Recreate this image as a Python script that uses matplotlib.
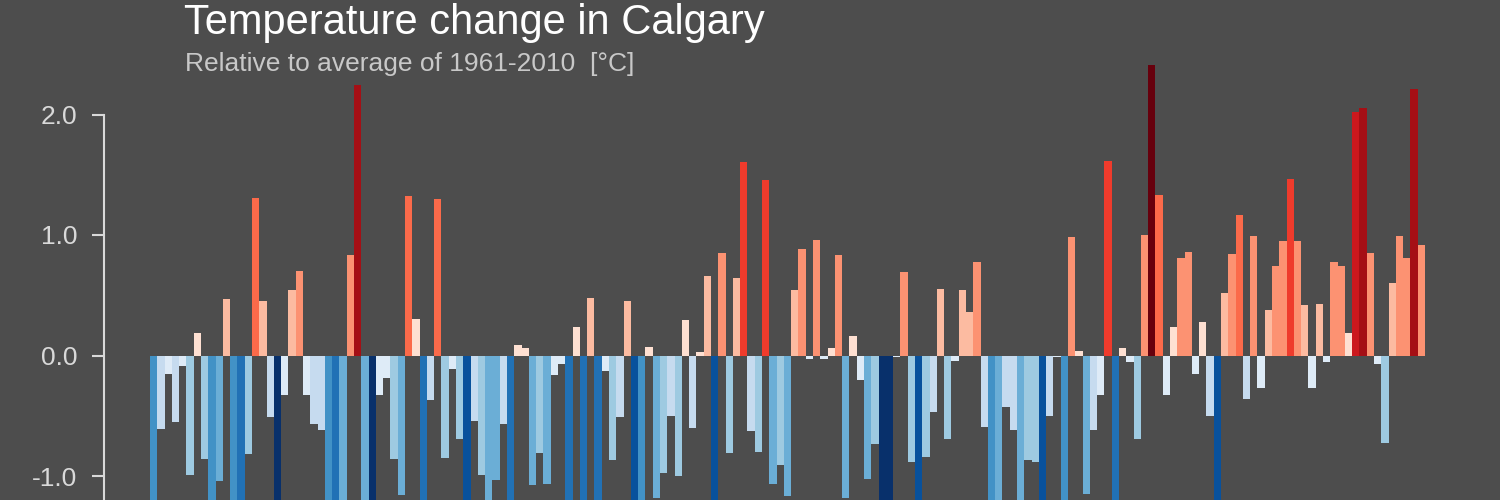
import numpy as np
import matplotlib
matplotlib.use("Agg")
import matplotlib.pyplot as plt
from matplotlib.colors import ListedColormap, Normalize

# ---- data -------------------------------------------------------------
years = list(range(1845, 2020))
anomaly = [
    -1.50, -0.61, -0.15, -0.55, -0.09, -0.99, 0.19, -0.86, -1.50, -1.04,
    0.47, -1.50, -1.85, -0.82, 1.31, 0.455, -0.51, -2.50, -0.33, 0.54,
    0.70, -0.33, -0.57, -0.62, -1.50, -1.85, -1.27, 0.83, 2.245, -1.27,
    -2.50, -0.33, -0.19, -0.86, -1.16, 1.32, 0.305, -1.85, -0.37, 1.30,
    -0.85, -0.115, -0.69, -2.20, -0.54, -0.99, -1.25, -1.03, -0.57, -1.85,
    0.09, 0.065, -1.075, -0.81, -1.065, -0.16, -0.07, -1.85, 0.235, -1.85,
    0.475, -1.85, -0.13, -0.87, -0.51, 0.455, -2.20, -1.50, 0.07, -1.18,
    -0.975, -0.50, -1.00, 0.295, -0.60, 0.025, 0.66, -2.20, 0.85, -0.81,
    0.64, 1.605, -0.63, -0.80, 1.455, -1.065, -0.91, -1.17, 0.54, 0.88,
    -0.026, 0.96, -0.026, 0.062, 0.83, -1.185, 0.16, -0.205, -1.025, -0.735,
    -2.50, -2.70, -0.01, 0.695, -0.885, -2.20, -0.845, -0.47, 0.555, -0.69,
    -0.045, 0.54, 0.36, 0.78, -0.59, -1.50, -1.25, -0.43, -0.62, -1.25,
    -0.87, -0.88, -2.20, -0.50, -0.01, -1.50, 0.98, 0.04, -1.15, -0.62,
    -0.33, 1.61, -1.85, 0.065, -0.057, -0.69, 1.00, 2.41, 1.335, -0.33,
    0.237, 0.81, 0.86, -0.156, 0.275, -0.50, -2.20, 0.515, 0.84, 1.17,
    -0.36, 0.99, -0.27, 0.38, 0.74, 0.95, 1.465, 0.95, 0.415, -0.27,
    0.43, -0.05, 0.78, 0.74, 0.185, 2.02, 2.055, 0.85, -0.073, -0.73,
    0.60, 0.99, 0.81, 2.21, 0.92,
]
ytick_values = [-1.0, 0.0, 1.0, 2.0]
ytick_labels = ["-1.0", "0.0", "1.0", "2.0"]
title = "Temperature change in Calgary"
subtitle = "Relative to average of 1961-2010  [°C]"

# ---- style ------------------------------------------------------------
bg = "#4d4d4d"
stripe_colors = ['#08306b', '#08519c', '#2171b5', '#4292c6',
                 '#6baed6', '#9ecae1', '#c6dbef', '#deebf7',
                 '#fee0d2', '#fcbba1', '#fc9272', '#fb6a4a',
                 '#ef3b2c', '#cb181d', '#a50f15', '#67000d']
cmap = ListedColormap(stripe_colors)
norm = Normalize(vmin=-2.7, vmax=2.7)

plt.rcParams['font.family'] = ['Liberation Sans', 'DejaVu Sans']

fig = plt.figure(figsize=(15, 5), dpi=100, facecolor=bg)
spine_px = 104
ax_left, ax_right = spine_px / 1500, 1450 / 1500
ax_top_px = 50
ax = fig.add_axes([ax_left, 0.0, ax_right - ax_left, 1 - ax_top_px / 500])
ax.set_facecolor(bg)

n = len(anomaly)
x = np.arange(n)
colors = [cmap(norm(v)) for v in anomaly]
ax.bar(x, anomaly, width=1.0, color=colors, linewidth=0)

# x limits so that bars start at x=150px and end at 1425px
pitch = (1425 - 150) / n
xl = -0.5 - (150 - spine_px) / pitch
xr = xl + (1450 - spine_px) / pitch
ax.set_xlim(xl, xr)

zero_px, unit_px = 355.5, 120.5
ymin = -(500 - zero_px) / unit_px
ax.set_ylim(ymin, (zero_px - ax_top_px) / unit_px)

for s in ["top", "right", "bottom"]:
    ax.spines[s].set_visible(False)
ax.spines["left"].set_color("#d9d9d9")
ax.spines["left"].set_linewidth(1.5)
ax.spines["left"].set_bounds(ymin, 2.0)
ax.set_xticks([])
ax.set_yticks(ytick_values)
ax.set_yticklabels(ytick_labels)
ax.tick_params(axis="y", colors="#d9d9d9", labelcolor="#d9d9d9",
               labelsize=19, length=9, width=1.5, pad=10)

fig.text(184 / 1500, 1 - 34 / 500, title, color="white", fontsize=30,
         va="baseline", ha="left")
fig.text(185 / 1500, 1 - 71.5 / 500, subtitle, color="#c8c8c8", fontsize=19,
         va="baseline", ha="left")

fig.savefig("out.png", dpi=100, facecolor=bg)
